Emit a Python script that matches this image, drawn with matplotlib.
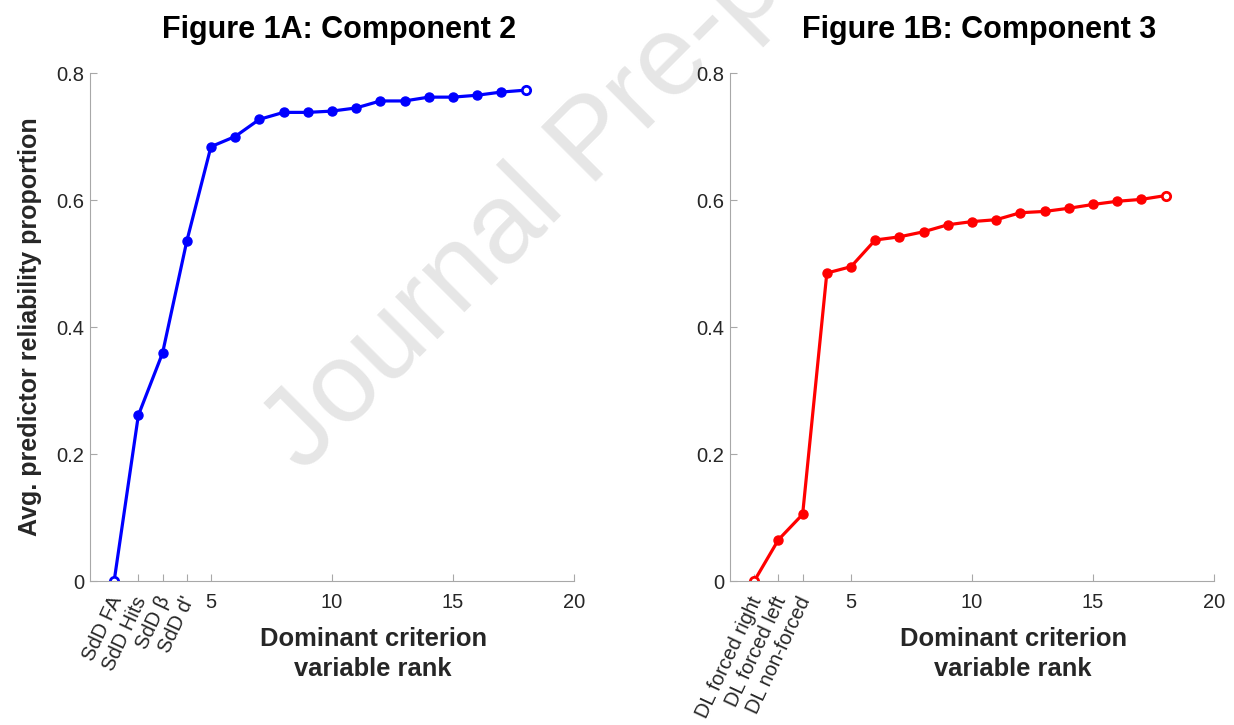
import matplotlib
matplotlib.use("Agg")
import matplotlib.pyplot as plt

rank = list(range(1, 19))
comp2 = [0.0, 0.261, 0.359, 0.535, 0.684, 0.700, 0.727, 0.738, 0.738, 0.740,
         0.745, 0.756, 0.756, 0.762, 0.762, 0.765, 0.770, 0.773]
comp3 = [0.0, 0.065, 0.105, 0.485, 0.495, 0.537, 0.542, 0.550, 0.561, 0.566,
         0.569, 0.580, 0.582, 0.587, 0.593, 0.598, 0.601, 0.607]

ticks_a = [1, 2, 3, 4, 5, 10, 15, 20]
labels_a = ["SdD FA", "SdD Hits", "SdD β", "SdD d'", "5", "10", "15", "20"]
ticks_b = [1, 2, 3, 5, 10, 15, 20]
labels_b = ["DL forced right", "DL forced left", "DL non-forced", "5", "10", "15", "20"]
yticks = [0, 0.2, 0.4, 0.6, 0.8]
ylabels = ["0", "0.2", "0.4", "0.6", "0.8"]

plt.rcParams['font.family'] = ['Liberation Sans', 'DejaVu Sans']

fig = plt.figure(figsize=(12.34, 7.25), dpi=100)

# watermark behind everything
fig.text(0.2459, 0.3455, "Journal Pre-proof", fontsize=82, color="#e6e6e6",
         rotation=45, rotation_mode="anchor", ha="left", va="baseline",
         zorder=-5)

panels = [
    (0.0729, comp2, "blue", ticks_a, labels_a, "Figure 1A: Component 2", 4),
    (0.5916, comp3, "red", ticks_b, labels_b, "Figure 1B: Component 3", 3),
]

for i, (left, vals, col, tks, tlabels, title, nrot) in enumerate(panels):
    ax = fig.add_axes([left, 0.1986, 0.3922, 0.7007])
    ax.patch.set_alpha(0)
    ax.plot(rank, vals, '-', color=col, lw=2.3)
    ax.plot(rank[1:-1], vals[1:-1], 'o', color=col, ms=6.5)
    ax.plot([rank[0], rank[-1]], [vals[0], vals[-1]], 'o', color=col, ms=6,
            mfc="white", mew=2)
    ax.set_xlim(0, 20)
    ax.set_ylim(0, 0.8)
    ax.set_xticks(tks)
    # slanted category names are drawn as separate texts, numbers as tick labels
    ax.set_xticklabels([""] * nrot + tlabels[nrot:], fontsize=14.5, color="#262626")
    for t, lab in zip(tks[:nrot], tlabels[:nrot]):
        ax.text(t + 0.12, -0.032, lab, transform=ax.get_xaxis_transform(),
                rotation=65, rotation_mode="anchor", ha="right", va="center",
                fontsize=14.5, color="#262626")
    ax.set_yticks(yticks)
    ax.set_yticklabels(ylabels, fontsize=14.5, color="#262626")
    ax.tick_params(direction="in", length=5, color="#a8a8a8")
    ax.tick_params(axis="x", pad=8.5)
    ax.tick_params(axis="y", pad=4)
    for s in ["top", "right"]:
        ax.spines[s].set_visible(False)
    for s in ["left", "bottom"]:
        ax.spines[s].set_color("#a8a8a8")
    ax.set_title(title, fontsize=22, fontweight="bold", pad=25, x=0.515)
    ax.set_xlabel("Dominant criterion\nvariable rank", fontsize=18.4,
                  fontweight="bold", color="#262626", linespacing=1.32,
                  va="top")
    ax.xaxis.set_label_coords(0.585, -0.09)
    if i == 0:
        ax.set_ylabel("Avg. predictor reliability proportion", fontsize=18,
                      fontweight="bold", color="#262626")
        ax.yaxis.set_label_coords(-0.1, 0.5)

fig.savefig("out.png", dpi=100)
